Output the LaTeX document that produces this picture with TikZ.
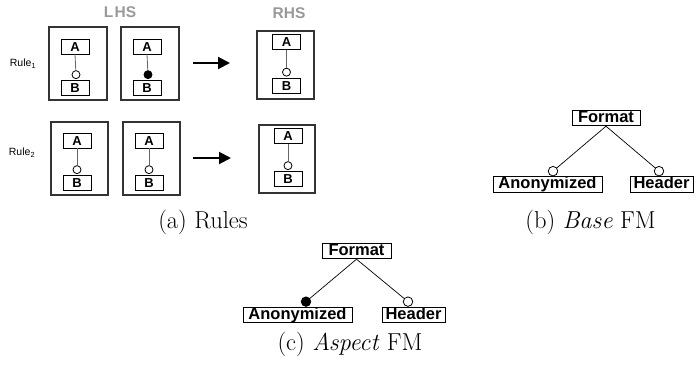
\documentclass[tikz,border=0pt]{standalone}
\usepackage{fontspec}
\newfontfamily\hv{Liberation Sans}
\usetikzlibrary{arrows.meta}
\begin{document}
\begin{tikzpicture}[x=1pt,y=-1pt,
 outer/.style={draw=black!80, line width=1.1pt, fill=white},
 abbox/.style={draw=black, line width=0.9pt, minimum width=28pt, minimum height=15pt, inner sep=0pt, text height=9.4pt, text depth=0pt, font=\hv\bfseries\fontsize{13}{14}\selectfont},
 fmbox/.style={draw=black, line width=0.9pt, inner xsep=0pt, inner ysep=0pt, text height=12pt, text depth=3.5pt, font=\hv\bfseries\fontsize{16.5}{18}\selectfont},
 ocirc/.style={circle, draw=black, fill=white, line width=0.8pt, inner sep=0pt, minimum size=8pt},
 fcirc/.style={ocirc, fill=black},
 focirc/.style={circle, draw=black, fill=white, line width=0.8pt, inner sep=0pt, minimum size=9.5pt},
 ffcirc/.style={focirc, fill=black},
 link/.style={draw=black!60, line width=0.8pt},
 tlink/.style={draw=black, line width=0.7pt},
 rarrow/.style={line width=2pt, -{Triangle[length=12pt,width=12pt]}},
 hdr/.style={font=\hv\bfseries\fontsize{15.5}{17}\selectfont, text=black!40},
 rl/.style={font=\hv\fontsize{10.5}{12}\selectfont},
 captext/.style={font=\fontsize{24.5}{28}\selectfont}]
\useasboundingbox (0,0) rectangle (696,367);

% headers
\node[hdr] (lhs) at (120,12) {L\kern1.5ptHS};
\node[hdr] (rhs) at (289,13) {RHS};
\node[rl] (r1) at (23,64) {Rule\textsubscript{1}};
\node[rl] (r2) at (22,153) {Rule\textsubscript{2}};

% Row 1
\draw[outer] (49,27) rectangle (107,100);
\node[abbox] (a11) at (75,46.5) {A};
\node[abbox] (b11) at (75,88) {B};
\node[ocirc, anchor=south] (c11) at ([xshift=1pt,yshift=1pt]b11.north) {};
\draw[link] (a11.south) -- (c11);

\draw[outer] (121,27) rectangle (179,100);
\node[abbox] (a12) at (147,46.5) {A};
\node[abbox] (b12) at (147,88) {B};
\node[fcirc, anchor=south] (c12) at ([xshift=1pt,yshift=1pt]b12.north) {};
\draw[link] (a12.south) -- (c12);

\draw[outer] (257,31) rectangle (314,99);
\node[abbox] (a13) at (286.5,42) {A};
\node[abbox] (b13) at (286.5,85.5) {B};
\node[ocirc, anchor=south] (c13) at ([yshift=1pt]b13.north) {};
\draw[link] (a13.south) -- (c13);

\coordinate (p1s) at (193,63);
\coordinate (p1e) at (230,63);
\draw[rarrow] (p1s) -- (p1e);

% Row 2
\draw[outer] (51,122) rectangle (108,195);
\node[abbox] (a21) at (77,140.5) {A};
\node[abbox] (b21) at (77,183) {B};
\node[ocirc, anchor=south] (c21) at ([yshift=1pt]b21.north) {};
\draw[link] (a21.south) -- (c21);

\draw[outer] (123,122) rectangle (180,195);
\node[abbox] (a22) at (149,140.5) {A};
\node[abbox] (b22) at (149,183) {B};
\node[ocirc, anchor=south] (c22) at ([yshift=1pt]b22.north) {};
\draw[link] (a22.south) -- (c22);

\draw[outer] (259,125) rectangle (315,193);
\node[abbox] (a23) at (288,136) {A};
\node[abbox] (b23) at (288,179) {B};
\node[ocirc, anchor=south] (c23) at ([yshift=1pt]b23.north) {};
\draw[link] (a23.south) -- (c23);

\coordinate (p2s) at (193,158);
\coordinate (p2e) at (231,158);
\draw[rarrow] (p2s) -- (p2e);

\node[captext] (capa) at (203,222) {(a) Rules};

% (b) Base FM
\node[fmbox, minimum width=68pt] (fb) at (606,118) {Format};
\node[fmbox, minimum width=109pt] (anb) at (547.5,184.5) {Anonymized};
\node[fmbox, minimum width=63pt] (hb) at (661.5,184.5) {Header};
\node[focirc, anchor=south] (cab) at ([xshift=5.5pt]anb.north) {};
\node[focirc, anchor=south] (chb) at ([xshift=-2.5pt]hb.north) {};
\draw[tlink] (fb.south) -- (cab);
\draw[tlink] (fb.south) -- (chb);
\node[captext] (capb) at (590.5,222) {(b) \textit{Base} FM};

% (c) Aspect FM
\node[fmbox, minimum width=69pt] (fc) at (356.5,251) {Format};
\node[fmbox, minimum width=109pt] (anc) at (297.5,315) {Anonymized};
\node[fmbox, minimum width=63pt] (hc) at (413.5,315) {Header};
\node[ffcirc, anchor=south] (cac) at ([xshift=8.5pt]anc.north) {};
\node[focirc, anchor=south] (chc) at ([xshift=-5.5pt]hc.north) {};
\draw[tlink] (fc.south) -- (cac);
\draw[tlink] (fc.south) -- (chc);
\node[captext] (capc) at (350,344) {(c) \textit{Aspect} FM};
\end{tikzpicture}
\end{document}
